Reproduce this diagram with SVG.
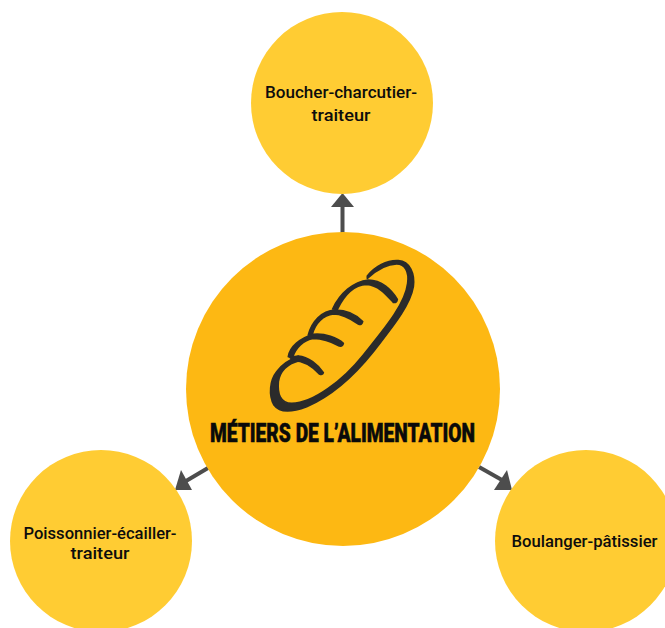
<svg xmlns="http://www.w3.org/2000/svg" width="665" height="628" viewBox="0 0 665 628">
<style>
.outer{fill:#ffcc33}
.center{fill:#fdb813}
.bread{fill:#2b2b2b;stroke:#2b2b2b;stroke-width:5;stroke-linejoin:round}
.conn{stroke:#4d4d4d;stroke-width:4;fill:none}
.head{fill:#4d4d4d}
.lbl{font-family:"Roboto","Liberation Sans",sans-serif;font-weight:500;font-size:17px;fill:#0d0d0d;text-anchor:middle}
.title{font-family:"Roboto","Liberation Sans",sans-serif;font-weight:900;font-size:25px;fill:#0a0a0a;stroke:#0a0a0a;stroke-width:.5}
</style>
<g id="connectors">
<line class="conn" x1="342.500" y1="233" x2="342.500" y2="205"/>
<polygon class="head" points="342.500,193 354,207 331,207"/>
<line class="conn" x1="208" y1="468" x2="186" y2="481"/>
<polygon class="head" points="175,490 181,470 192,490"/>
<line class="conn" x1="479" y1="467" x2="502" y2="480"/>
<polygon class="head" points="512,490 494,490 507,470"/>
</g>
<g id="node-boucher">
<circle class="outer" cx="342" cy="103" r="91"/>
<text class="lbl" x="341" y="98" textLength="152" lengthAdjust="spacingAndGlyphs">Boucher-charcutier-</text>
<text class="lbl" x="341" y="121" textLength="59" lengthAdjust="spacingAndGlyphs">traiteur</text>
</g>
<g id="node-poissonnier">
<circle class="outer" cx="101" cy="541" r="91"/>
<text class="lbl" x="100" y="539" textLength="153" lengthAdjust="spacingAndGlyphs">Poissonnier-écailler-</text>
<text class="lbl" x="100" y="559" textLength="59" lengthAdjust="spacingAndGlyphs">traiteur</text>
</g>
<g id="node-boulanger">
<circle class="outer" cx="586" cy="541" r="91"/>
<text class="lbl" x="584.500" y="547" textLength="146" lengthAdjust="spacingAndGlyphs">Boulanger-pâtissier</text>
</g>
<g id="node-center">
<circle class="center" cx="343" cy="389" r="157"/>
<g class="bread" transform="translate(250 240) scale(.33333)">
<path d="M352 108C375 80 410 60 445 62C480 65 495 100 490 140C480 200 420 270 370 335C310 410 240 470 170 500C130 515 90 520 72 495C55 465 60 420 80 395C95 375 115 360 145 349L150 361C115 370 90 390 85 425C82 460 90 490 125 490C190 490 280 420 340 345C400 270 465 195 473 130C478 95 465 72 440 72C410 72 380 90 352 115Z"/>
<path d="M248 207C270 160 310 125 355 120C395 120 425 150 442 178Q440 190 430 187C410 165 385 135 350 133C310 135 280 170 262 208Z"/>
<path d="M175 285C185 245 215 212 255 210C290 210 320 225 338 245Q335 257 325 252C300 235 275 222 250 222C220 225 195 250 187 283Z"/>
<path d="M115 350C120 320 150 295 190 283C225 280 262 292 280 310Q278 320 268 318C240 302 215 295 190 295C160 300 135 325 128 352Z"/>
<path d="M120 352L145 348C175 350 205 375 220 398Q218 406 208 402C190 382 165 362 130 362Z"/>
</g>
<text class="title" x="210" y="442" textLength="265" lengthAdjust="spacingAndGlyphs">MÉTIERS DE L’ALIMENTATION</text>
</g>
</svg>
